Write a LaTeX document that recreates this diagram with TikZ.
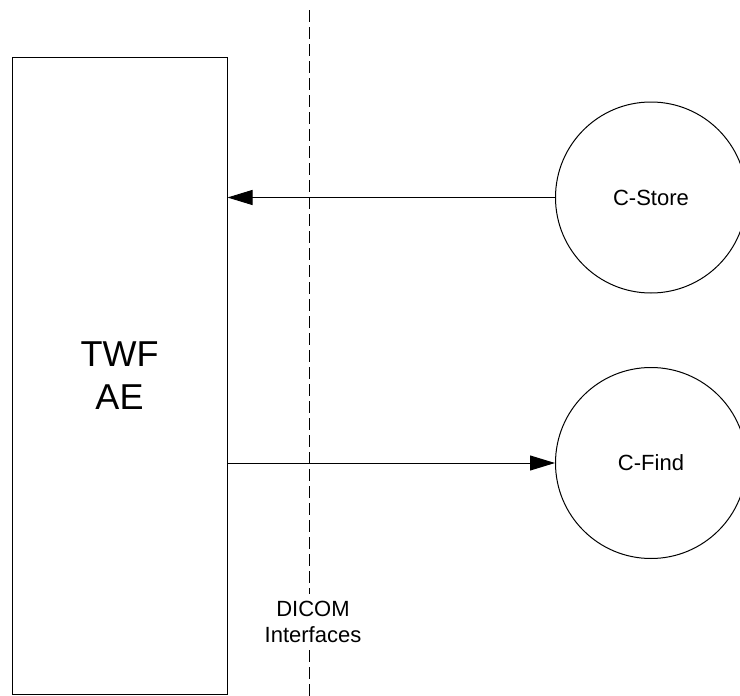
\documentclass[tikz,border=0pt]{standalone}
\usepackage{fontspec}
\setmainfont{Liberation Sans}
\usetikzlibrary{arrows.meta}
\begin{document}
\begin{tikzpicture}[x=1pt,y=-1pt,line width=1pt,
  flow/.style={-{Triangle[length=25pt,width=15pt]}},
  proc/.style={circle,draw,minimum size=191pt,inner sep=0pt,font=\fontsize{22}{26}\selectfont},
  entity/.style={rectangle,draw,minimum width=215pt,minimum height=637pt,inner sep=0pt,align=center,font=\fontsize{36}{43}\selectfont},
  divider/.style={dash pattern=on 12pt off 5pt},
  divlabel/.style={inner sep=2pt,align=center,font=\fontsize{22}{26}\selectfont}]
\useasboundingbox (0,0) rectangle (740,696);
\begin{scope}
\clip (0,0) rectangle (740,696);
\node[entity] (box) at (119.5,375.5) {TWF\\AE};
\node[proc] (store) at (651,197.5) {C-Store};
\node[proc] (find) at (651,463) {C-Find};
\node[divlabel] (dicom) at (313,622) {DICOM\\Interfaces};
\coordinate (dtop) at (309,10);
\coordinate (gaptop) at (309,594);
\coordinate (gapbot) at (309,650);
\coordinate (dbot) at (309,700);
\draw[divider] (dtop) -- (gaptop);
\draw[divider] (gapbot) -- (dbot);
\draw[flow] (store.west) -- (store.west -| box.east);
\draw[flow] (box.east |- find.west) -- (find.west);
\end{scope}
\end{tikzpicture}
\end{document}
